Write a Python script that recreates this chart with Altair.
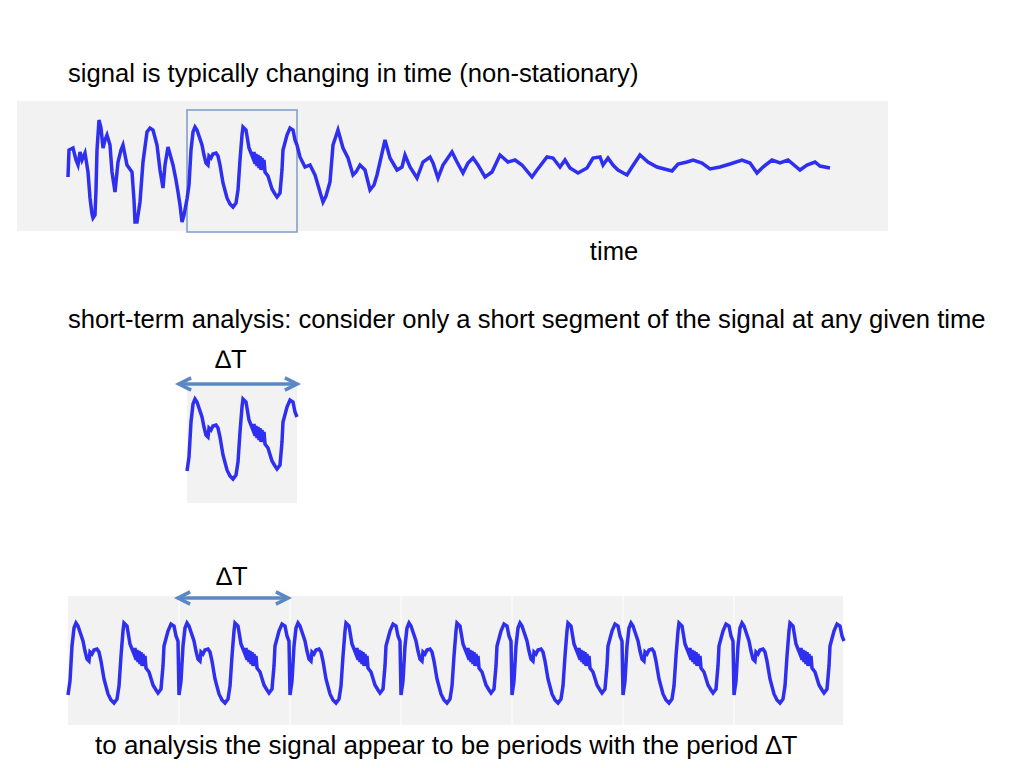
import altair as alt
import pandas as pd

# ---------------- data ----------------
# leading part of the long signal: time (samples) and amplitude
head_t = [0, 1, 5, 8, 10, 12, 14, 17, 20, 22, 24, 25, 27, 28, 29, 31, 33, 35, 37, 39,
          42, 44, 47, 50, 53, 55, 59, 64, 66, 67, 69, 72, 75, 79, 82, 85, 89, 92, 94, 95,
          97, 100, 105, 108, 110, 112, 114, 116]
head_a = [-9, 18, 20, 8, 3, 16, 8, 15, -4, -30, -46, -50, -47, -22, 18, 48, 40, 20, 28, 33,
          23, -4, -24, 6, 18, 23, 3, -4, -32, -54, -54, -34, 6, 36, 40, 38, 23, -2, -14, -20,
          3, 21, 3, -12, -24, -37, -54, -47]

# the short segment (length Delta T) selected by the box
seg_t = [0, 2, 4, 6, 8, 10, 12, 15, 17, 19, 21, 22, 24, 26, 29, 31, 33, 36, 40, 43,
         46, 49, 51, 53, 55, 56, 59, 62, 64, 66, 67, 68, 69, 70, 71, 72, 73, 74, 75, 76,
         77, 78, 81, 85, 88, 90, 93, 95, 96, 100, 103, 106, 108, 110]
seg_a = [-31, -17, 18, 36, 41, 38, 32, 23, 13, 5, 3, 12, 10, 14, 15, 12, 3, -15, -30, -36,
         -39, -35, -22, 8, 33, 41, 38, 20, 15, 10, 16, 4, 14, 2, 13, 0, 12, -2, 10, -2,
         8, -4, -8, -21, -26, -29, -25, -2, 18, 33, 40, 38, 28, 23]
seg_start = 119          # where the segment sits in the long signal
seg_len = 110
period = 111             # spacing of the repeated copies
n_copies = 7

# trailing, decaying part of the long signal
tail_t = [232, 237, 242, 247, 252, 255, 258, 262, 265, 270, 275, 280, 285, 288, 292, 297,
          302, 306, 309, 312, 317, 322, 329, 334, 337, 342, 349, 355, 362, 365, 370, 375,
          384, 389, 395, 400, 405, 410, 417, 424, 432, 440, 447, 454, 464, 469, 479, 485,
          492, 497, 502, 510, 519, 525, 532, 535, 540, 545, 550, 559, 564, 572, 580, 589,
          604, 610, 619, 625, 634, 642, 652, 662, 674, 682, 689, 695, 704, 712, 720, 732,
          739, 747, 752, 762]
tail_a = [11, 1, 3, -7, -24, -34, -28, -14, 23, 38, 20, 10, -7, -4, 3, -2,
          -22, -17, -7, 6, 28, 10, -2, 1, 13, 1, -10, 6, 11, 5, -10, 3,
          16, 6, -5, 5, 10, 3, -9, -4, 13, 6, 8, 3, -9, -2, 11, 10,
          1, 8, 0, -5, 0, 10, 11, 3, 10, 3, -2, -7, 1, 13, 6, 1,
          -3, 4, 6, 8, 5, -1, 1, 4, 8, 5, -5, 1, 8, 5, 8, -2,
          3, 6, 2, 0]

title_top = "signal is typically changing in time (non-stationary)"
label_time = "time"
title_mid = "short-term analysis: consider only a short segment of the signal at any given time"
label_dt = "\u2206T"
title_bottom = "to analysis the signal appear to be periods with the period \u2206T"

# ---------------- tables built from the arrays ----------------
full_t = head_t + [seg_start + t for t in seg_t] + tail_t
full_a = head_a + seg_a + tail_a
df_full = pd.DataFrame({"t": full_t, "a": full_a, "o": range(len(full_t))})
df_seg = pd.DataFrame({"t": seg_t, "a": seg_a, "o": range(len(seg_t))})
rep_t, rep_a = [], []
for k in range(n_copies):
    rep_t += [k * period + t for t in seg_t]
    rep_a += seg_a
df_rep = pd.DataFrame({"t": rep_t, "a": rep_a, "o": range(len(rep_t))})
df_box = pd.DataFrame({"t0": [seg_start], "t1": [seg_start + seg_len]})
df_sep = pd.DataFrame({"t": [k * period for k in range(1, n_copies)]})
one = pd.DataFrame({"z": [0]})

BLUE = "#2f2ff0"
ARROW = "#5a88c4"
GRAY = "#f2f2f2"
FONT = "Liberation Sans"
LW = 3.5

top_x = alt.Scale(domain=[0, 762], range=[60, 822], nice=False, zero=False)
top_y = alt.Scale(domain=[-60, 60], range=[220, 100], nice=False, zero=False)
mid_x = alt.Scale(domain=[0, 110], range=[179, 289], nice=False, zero=False)
mid_y = alt.Scale(domain=[-60, 60], range=[492, 372], nice=False, zero=False)
bot_x = alt.Scale(domain=[0, 775], range=[60, 835], nice=False, zero=False)
bot_y = alt.Scale(domain=[-60, 60], range=[716, 596], nice=False, zero=False)


def rect(x, x2, y, y2, **kw):
    return alt.Chart(one).mark_rect(**kw).encode(
        x=alt.value(x), x2=alt.value(x2), y=alt.value(y), y2=alt.value(y2))


def text(s, x, y, align="left", size=25.6):
    return alt.Chart(one).mark_text(
        text=s, font=FONT, fontSize=size, align=align, baseline="alphabetic", color="black"
    ).encode(x=alt.value(x), y=alt.value(y))


def arrow(x0, x1, y):
    line = alt.Chart(one).mark_rule(color=ARROW, strokeWidth=3.5).encode(
        x=alt.value(x0 + 2), x2=alt.value(x1 - 2), y=alt.value(y))
    left = alt.Chart(one).mark_point(
        shape="M1,-1L-1,0L1,1", filled=False, stroke=ARROW, strokeWidth=3.5, size=150, opacity=1
    ).encode(x=alt.value(x0 + 6), y=alt.value(y))
    right = alt.Chart(one).mark_point(
        shape="M-1,-1L1,0L-1,1", filled=False, stroke=ARROW, strokeWidth=3.5, size=150, opacity=1
    ).encode(x=alt.value(x1 - 6), y=alt.value(y))
    return [line, left, right]


bg_top = rect(9, 880, 93, 223, color=GRAY)
bg_mid = rect(179, 289, 375, 495, color=GRAY)
bg_bot = rect(60, 835, 588, 717, color=GRAY)

sig_top = alt.Chart(df_full).mark_line(color=BLUE, strokeWidth=LW, strokeJoin="miter").encode(
    x=alt.X("t:Q", scale=top_x, axis=None),
    y=alt.Y("a:Q", scale=top_y, axis=None),
    order="o:Q")

box = alt.Chart(df_box).mark_rect(fill=None, stroke="#7b9cc6", strokeWidth=1.5).encode(
    x=alt.X("t0:Q", scale=top_x, axis=None), x2="t1:Q",
    y=alt.value(102), y2=alt.value(224))

sig_mid = alt.Chart(df_seg).mark_line(color=BLUE, strokeWidth=LW, strokeJoin="miter").encode(
    x=alt.X("t:Q", scale=mid_x, axis=None),
    y=alt.Y("a:Q", scale=mid_y, axis=None),
    order="o:Q")

seps = alt.Chart(df_sep).mark_rule(color="#ffffff", strokeWidth=1).encode(
    x=alt.X("t:Q", scale=bot_x, axis=None), y=alt.value(588), y2=alt.value(717))

sig_bot = alt.Chart(df_rep).mark_line(color=BLUE, strokeWidth=LW, strokeJoin="miter").encode(
    x=alt.X("t:Q", scale=bot_x, axis=None),
    y=alt.Y("a:Q", scale=bot_y, axis=None),
    order="o:Q")

layers = [bg_top, bg_mid, bg_bot, box, sig_top, sig_mid, seps, sig_bot,
          text(title_top, 60, 74), text(label_time, 606, 252, align="center"),
          text(title_mid, 60, 320), text(label_dt, 223, 360, align="center"),
          text(label_dt, 224, 577, align="center"), text(title_bottom, 87, 746, size=26)]
layers += arrow(171, 289, 376)
layers += arrow(170, 280, 590)

chart = alt.layer(*layers).resolve_scale(x="independent", y="independent").properties(
    width=1008, height=752, padding=0, autosize="none", background="white"
).configure_view(stroke=None)

chart.save("out.html", embed_options={"renderer": "svg", "actions": False})
